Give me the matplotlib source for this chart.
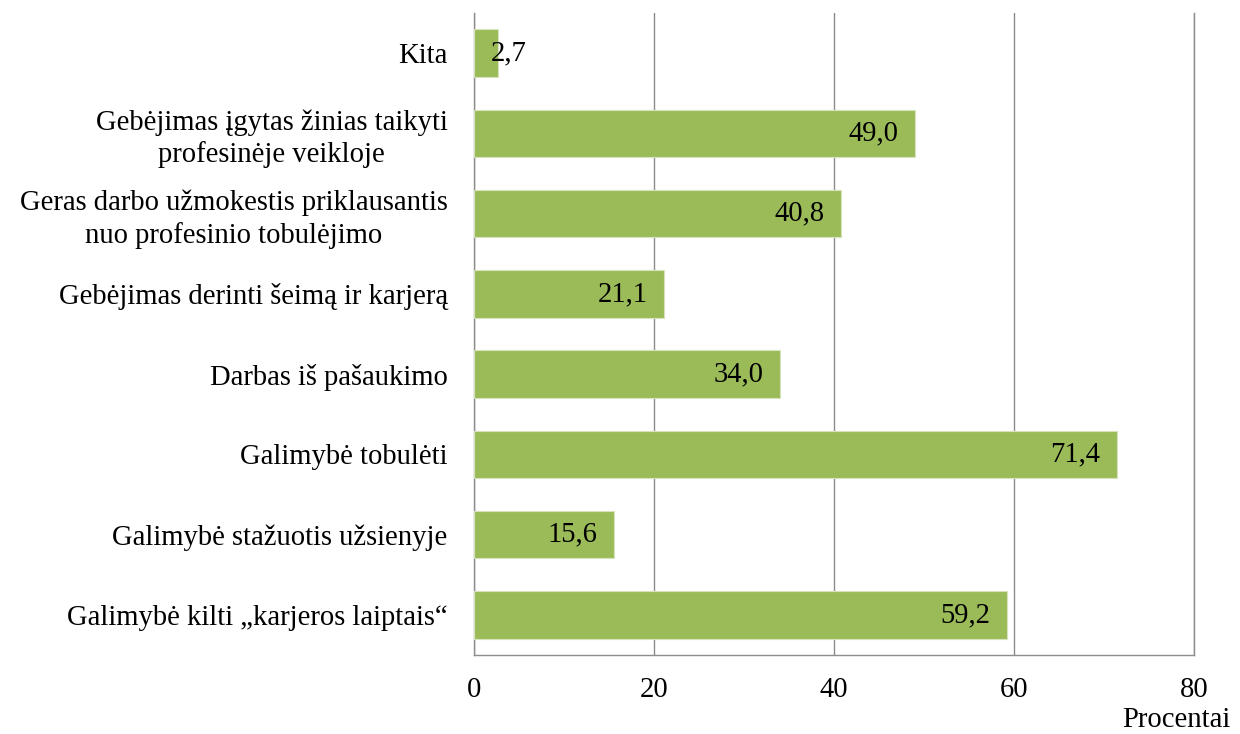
import matplotlib
matplotlib.use("Agg")
import matplotlib.pyplot as plt

plt.rcParams["font.family"] = ["Liberation Serif", "DejaVu Serif"]

# categories from bottom to top
categories = [
    "Galimybė kilti „karjeros laiptais“",
    "Galimybė stažuotis užsienyje",
    "Galimybė tobulėti",
    "Darbas iš pašaukimo",
    "Gebėjimas derinti šeimą ir karjerą",
    "Geras darbo užmokestis priklausantis\nnuo profesinio tobulėjimo",
    "Gebėjimas įgytas žinias taikyti\nprofesinėje veikloje",
    "Kita",
]
values = [59.2, 15.6, 71.4, 34.0, 21.1, 40.8, 49.0, 2.7]
xticks = [0, 20, 40, 60, 80]

fig = plt.figure(figsize=(12.4, 7.34), dpi=100)
ax = fig.add_axes([0.3823, 0.1076, 0.5806, 0.8747])

pos = list(range(len(categories)))
ax.barh(pos, values, height=0.59, color="#9BBB59", edgecolor="#d6e3bc", linewidth=0.8, zorder=3)

ax.set_xlim(0, 80)
ax.set_ylim(-0.5, len(categories) - 0.5)
ax.set_xticks(xticks)
ax.set_xticklabels([str(t) for t in xticks])
ax.set_yticks(pos)
ax.set_yticklabels(categories)
for t in ax.get_yticklabels():
    t.set_multialignment("center")
    t.set_linespacing(1.25)

ax.tick_params(axis="both", length=0, labelsize=20.6)
ax.tick_params(axis="y", pad=19)
ax.tick_params(axis="x", pad=16)

ax.grid(axis="x", color="#8c8c8c", linewidth=1, zorder=0)
ax.spines["top"].set_visible(False)
for s in ["left", "bottom", "right"]:
    ax.spines[s].set_color("#8c8c8c")
    ax.spines[s].set_linewidth(1)

# value labels
for p, v in zip(pos, values):
    lab = f"{v:.1f}".replace(".", ",")
    if v < 10:
        ax.annotate(lab, (0, p), xytext=(12, 0), textcoords="offset points",
                    ha="left", va="center", fontsize=20.6, zorder=4)
    else:
        ax.annotate(lab, (v, p), xytext=(-12, 0), textcoords="offset points",
                    ha="right", va="center", fontsize=20.6, zorder=4)

fig.text(1230 / 1240, 1 - 720 / 734, "Procentai", ha="right", va="center", fontsize=20.6)

fig.savefig("out.png", dpi=100)
